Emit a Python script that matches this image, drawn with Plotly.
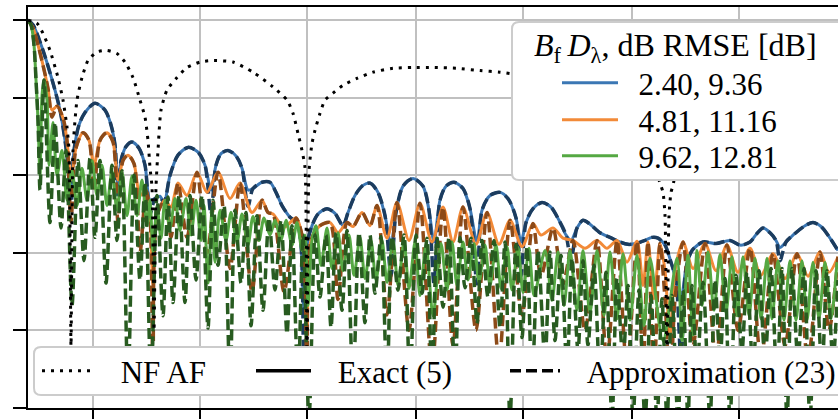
import plotly.graph_objects as go

# ---------------- data (x: angular coordinate, y: normalized AF in dB) ----------------
nf_x = [0.0,0.9,1.5,2.2,3.0,3.5,3.9,4.1,4.3,4.5,4.9,5.4,6.0,6.9,7.9,8.9,9.7,10.5,11.2,11.7,
        12.0,12.2,12.4,12.6,12.8,13.0,13.3,13.9,14.9,15.9,17.2,18.4,20.5,22.5,24.5,25.9,26.5,27.0,27.4,27.7,
        27.9,28.1,28.4,28.7,29.2,29.7,30.5,31.5,32.9,34.5,36.5,38.5,40.5,42.9,45.2,47.2,49.2,53.2,57.2,60.2,
        62.2,63.2,63.5,63.7,63.9,64.1,64.3,64.5,65.2,67.2,72.2,77.2,81.2]
nf_af = [0,-0.4,-1.7,-3.9,-7.4,-10.3,-13.8,-16.8,-42,-16.8,-10.3,-7.4,-5.2,-4.1,-3.9,-4.3,-5.4,-7.4,-10.3,-12.5,
         -15.5,-19.0,-21.5,-40,-21.5,-16.8,-11.6,-9.0,-7.4,-6.1,-5.4,-5.2,-5.4,-6.7,-8.6,-10.3,-12.0,-14.6,-16.8,-19.0,
         -45,-19.4,-15.9,-14.2,-12.0,-10.3,-9.4,-8.4,-7.5,-6.7,-6.2,-6.1,-6.1,-6.2,-6.5,-6.7,-7.1,-8.4,-10.3,-13.5,
         -17.4,-21.0,-22.2,-25.2,-45,-25.2,-22.2,-21.3,-16.8,-11.6,-8.4,-7.7,-7.7]

blue_x = [0.0,0.5,1.5,2.5,3.2,3.7,4.0,4.3,4.6,5.1,5.7,6.7,7.7,8.3,8.7,9.0,9.3,9.8,10.4,11.1,
          11.7,12.2,12.7,13.2,13.6,14.2,15.0,16.0,17.0,17.7,18.3,18.8,19.3,20.0,20.8,21.4,22.0,22.5,23.4,24.2,
          24.8,25.4,26.2,26.9,27.3,27.6,27.9,28.4,29.0,29.9,30.7,31.5,32.0,32.7,33.5,34.2,35.0,35.7,36.3,36.8,
          37.5,38.5,39.5,40.1,40.6,41.2,41.8,42.6,43.5,44.2,44.9,45.4,46.2,47.2,48.0,48.8,49.3,49.8,50.5,51.4,
          52.3,53.1,53.8,54.3,54.9,55.5,56.2,57.2,58.2,59.2,60.0,60.8,61.7,62.4,63.0,63.7,64.3,64.8,65.3,65.8,
          66.4,67.5,68.8,70.2,71.2,72.2,72.9,73.5,74.2,74.8,75.2,75.8,76.7,77.7,78.5,79.3,80.1,81.0]
blue_exact = [0,-0.6,-3.9,-8.1,-11.6,-15.5,-18.7,-21.9,-16.8,-13.5,-11.9,-10.7,-11.6,-13.5,-16.1,-21.3,-18.1,-16.3,-15.7,-16.5,
              -18.7,-23.2,-23.0,-22.7,-23.6,-20.0,-17.4,-16.4,-17.0,-18.7,-21.9,-18.7,-17.2,-16.8,-17.5,-19.1,-21.9,-21.7,-20.9,-20.9,
              -22.2,-23.9,-25.4,-26.1,-29.0,-37.4,-29.0,-26.5,-25.0,-24.3,-24.9,-26.5,-24.8,-22.6,-21.3,-21.0,-22.2,-25.2,-29.0,-24.8,
              -21.4,-20.4,-21.4,-24.5,-28.6,-23.2,-21.4,-20.9,-21.7,-24.3,-28.6,-24.5,-22.6,-22.2,-23.0,-25.5,-28.6,-26.1,-24.3,-23.5,
              -24.1,-25.8,-27.7,-28.4,-26.8,-25.8,-26.3,-27.4,-28.0,-28.6,-28.9,-28.8,-28.4,-28.0,-28.1,-29.0,-31.2,-33.5,-36.1,-32.0,
              -29.7,-28.6,-28.8,-28.4,-29.0,-28.6,-27.5,-26.8,-27.4,-28.4,-29.3,-28.6,-27.5,-26.5,-26.1,-26.6,-27.9,-29.7]
blue_approx = [0,-0.6,-3.9,-8.1,-11.6,-15.5,-18.7,-24.5,-16.8,-13.5,-11.9,-10.7,-11.6,-13.5,-16.1,-24.0,-18.1,-16.3,-15.7,-16.5,
               -18.7,-25.0,-23.0,-22.7,-23.6,-20.0,-17.4,-16.4,-17.0,-18.7,-25.0,-18.7,-17.2,-16.8,-17.5,-19.1,-24.0,-21.7,-20.9,-20.9,
               -22.2,-23.9,-25.4,-26.1,-29.0,-46.0,-29.0,-26.5,-25.0,-24.3,-24.9,-26.5,-24.8,-22.6,-21.3,-21.0,-22.2,-25.2,-33.0,-24.8,
               -21.4,-20.4,-21.4,-24.5,-34.0,-23.2,-21.4,-20.9,-21.7,-24.3,-34.0,-24.5,-22.6,-22.2,-23.0,-25.5,-33.0,-26.1,-24.3,-23.5,
               -24.1,-25.8,-27.7,-31.0,-26.8,-25.8,-26.3,-27.4,-28.0,-28.6,-28.9,-28.8,-28.4,-28.0,-28.1,-29.0,-31.2,-33.5,-44.0,-32.0,
               -29.7,-28.6,-28.8,-28.4,-29.0,-28.6,-27.5,-26.8,-27.4,-28.4,-31.0,-28.6,-27.5,-26.5,-26.1,-26.6,-27.9,-29.7]

orange_x = [0.0,0.5,1.0,1.5,2.0,2.4,2.9,3.5,3.9,4.3,4.8,5.5,6.1,6.6,7.2,7.9,8.5,9.0,9.5,10.0,
            10.6,11.2,11.8,12.2,12.5,12.9,13.7,14.3,15.0,15.9,16.9,17.9,19.0,20.2,21.2,22.4,23.4,24.0,24.5,25.6,
            26.8,27.5,27.9,28.3,29.2,30.2,31.0,31.9,32.5,33.4,34.2,34.9,35.9,36.9,38.1,39.2,40.4,41.5,42.5,43.5,
            44.8,45.9,47.1,48.2,49.4,50.5,51.3,52.5,53.5,54.5,55.7,56.9,57.9,58.9,59.9,60.9,61.5,62.0,62.6,63.2,
            63.7,64.2,64.7,65.5,66.5,67.7,68.8,69.9,71.0,72.2,73.3,74.5,75.7,76.9,78.0,79.2,80.1,81.0]
orange_exact = [0,-1.0,-3.2,-5.8,-8.8,-11.6,-11.1,-12.6,-15.5,-20.6,-16.5,-14.5,-15.5,-18.7,-15.5,-14.5,-15.7,-20.6,-18.1,-17.4,
                -18.5,-22.6,-21.9,-25.2,-34.2,-25.2,-23.2,-24.1,-21.0,-22.6,-19.6,-22.2,-19.6,-23.0,-21.0,-24.8,-23.2,-24.8,-25.0,-26.7,
                -25.5,-28.4,-40.6,-28.4,-26.5,-26.1,-27.4,-26.1,-26.6,-24.8,-26.5,-23.9,-28.1,-23.5,-28.4,-23.6,-28.6,-24.1,-28.6,-24.1,
                -28.9,-24.8,-28.9,-25.8,-29.2,-26.2,-27.7,-26.8,-28.1,-28.4,-29.4,-28.4,-29.4,-28.4,-31.2,-28.5,-34.2,-28.6,-35.9,-28.8,
                -32.3,-40.9,-32.3,-28.6,-32.0,-28.8,-32.3,-29.0,-32.5,-29.4,-32.9,-30.1,-33.3,-30.1,-33.0,-29.9,-32.5,-30.5]
orange_approx = [0,-1.0,-3.2,-5.8,-8.8,-12.5,-11.1,-12.6,-15.5,-26.0,-16.5,-14.5,-15.5,-22.0,-15.5,-14.5,-15.7,-26.0,-18.1,-17.4,
                 -18.5,-30.0,-21.9,-25.2,-45.0,-25.2,-23.2,-28.0,-21.0,-28.0,-19.6,-30.0,-19.6,-32.0,-21.0,-35.0,-23.2,-24.8,-25.0,-35.0,
                 -25.5,-28.4,-47.0,-28.4,-26.5,-26.1,-36.0,-26.1,-26.6,-24.8,-26.5,-23.9,-38.0,-23.5,-40.0,-23.6,-45.0,-24.1,-42.0,-24.1,
                 -40.0,-24.8,-44.0,-25.8,-38.0,-26.2,-33.0,-26.8,-34.0,-28.4,-40.0,-28.4,-44.0,-28.4,-45.0,-28.5,-45.0,-28.6,-46.0,-28.8,
                 -36.0,-48.0,-36.0,-28.6,-42.0,-28.8,-44.0,-29.0,-40.0,-29.4,-44.0,-30.1,-42.0,-30.1,-44.0,-29.9,-40.0,-30.5]

green_x = [0.0,0.3,0.6,0.8,1.0,1.2,1.4,1.6,1.9,2.1,2.5,2.9,3.4,3.9,4.4,4.9,5.4,5.9,6.4,6.9,
           7.4,7.9,8.4,8.9,9.4,9.9,10.4,10.9,11.4,11.9,12.2,12.5,12.9,13.3,13.7,14.2,14.7,15.2,15.8,16.3,
           16.8,17.3,17.6,18.0,18.4,18.7,19.2,19.8,20.3,20.9,21.4,22.0,22.5,23.1,23.6,24.2,24.7,25.3,25.8,26.4,
           26.9,27.4,27.7,28.0,28.4,28.8,29.3,29.9,30.4,31.0,31.5,32.1,32.6,33.2,33.7,34.3,34.8,35.4,35.9,36.5,
           37.0,37.6,38.1,38.7,39.2,39.8,40.5,41.3,41.9,42.4,42.9,43.5,44.0,44.6,45.1,45.7,46.2,46.8,47.3,47.9,
           48.4,49.0,49.5,50.1,50.6,51.7,52.4,53.0,53.6,54.2,54.9,55.5,56.2,56.9,57.6,58.2,58.9,59.5,60.2,60.9,
           61.6,62.2,63.5,64.9,65.4,66.0,66.5,66.9,67.4,68.0,68.6,69.2,69.8,70.4,70.9,71.5,72.1,72.7,73.3,73.9,
           74.4,75.0,75.6,76.2,76.8,77.4,77.9,78.5,79.1,79.7,80.3,80.9]
green_exact = [0,-0.6,-3.2,-7.7,-12.9,-20.0,-9.7,-7.7,-10.3,-18.7,-13.2,-20.0,-16.8,-23.2,-19.4,-23.9,-19.1,-23.2,-18.1,-22.6,
               -18.7,-23.9,-19.4,-24.5,-19.6,-25.2,-20.1,-25.2,-20.6,-26.5,-23.2,-29.9,-23.9,-28.1,-23.2,-26.8,-23.0,-27.1,-23.0,-27.7,
               -23.2,-28.4,-23.9,-33.9,-24.5,-31.2,-24.5,-28.4,-24.8,-28.6,-25.0,-29.0,-25.3,-28.4,-25.5,-27.7,-25.8,-28.4,-25.8,-29.0,
               -26.1,-29.7,-27.7,-36.8,-28.4,-26.5,-31.6,-26.8,-32.0,-27.4,-32.3,-27.7,-32.9,-28.0,-33.3,-28.4,-33.5,-28.4,-33.8,-28.4,
               -34.2,-28.6,-34.6,-28.6,-35.5,-28.9,-38.1,-28.8,-34.8,-28.6,-34.2,-28.6,-33.5,-28.8,-33.8,-29.0,-34.2,-29.0,-34.6,-29.2,
               -34.8,-29.3,-35.1,-29.4,-35.5,-29.7,-36.1,-29.9,-36.8,-29.7,-37.4,-29.7,-37.7,-29.7,-38.1,-29.9,-38.5,-30.1,-38.7,-30.3,
               -39.4,-30.7,-41.3,-30.7,-41.3,-30.3,-40.6,-29.7,-36.8,-29.9,-37.4,-30.2,-37.7,-30.5,-38.1,-30.5,-38.1,-30.7,-38.5,-30.7,
               -38.5,-31.0,-38.7,-31.0,-38.7,-31.0,-38.7,-31.2,-38.5,-31.2,-38.5,-31.2]

green_ax = [0.0,0.3,0.6,0.8,1.0,1.2,1.6,2.2,2.7,3.3,3.8,4.4,5.0,5.6,6.2,6.7,7.2,7.8,8.4,8.9,
            9.4,10.0,10.6,11.2,11.7,12.3,12.9,13.5,14.0,14.5,15.1,15.7,16.2,16.8,17.4,18.0,18.5,19.0,19.6,20.2,
            20.7,21.3,21.8,22.3,22.9,23.5,24.1,24.7,25.3,25.9,26.4,27.0,27.5,28.1,28.7,29.2,29.8,30.3,30.8,31.4,
            31.9,32.5,33.1,33.7,34.2,34.7,35.3,35.9,36.4,37.0,37.6,38.2,38.8,39.4,39.9,40.4,40.9,41.5,42.1,42.7,
            43.2,43.7,44.3,44.9,45.4,46.0,46.6,47.2,47.7,48.2,48.8,49.4,49.9,50.4,51.0,51.7,52.2,52.7,53.3,53.9,
            54.4,55.0,55.5,56.0,56.6,57.2,57.8,58.4,58.9,59.5,60.0,60.5,61.1,61.7,62.3,62.9,63.4,63.9,64.4,65.0,
            65.5,66.0,66.4,66.9,67.5,68.2,68.7,69.2,69.7,70.2,70.8,71.4,71.9,72.5,73.1,73.7,74.3,74.9,75.4,75.9,
            76.4,77.0,77.6,78.2,78.8,79.4,79.9,80.5,81.0]
green_approx = [0,-0.6,-3.2,-7.7,-12.9,-21.9,-7.7,-26.1,-13.2,-26.8,-16.8,-36.8,-18.1,-31.0,-17.8,-28.0,-18.1,-33.9,-18.7,-28.4,
                -19.4,-47.1,-20.0,-33.5,-20.9,-47.1,-22.6,-38.1,-22.8,-36.4,-22.6,-36.4,-22.6,-33.5,-22.6,-39.7,-23.2,-31.6,-23.9,-47.1,
                -24.5,-33.9,-24.8,-39.4,-25.2,-37.4,-25.5,-34.8,-25.8,-40.4,-26.5,-47.1,-27.7,-51.6,-27.7,-35.7,-27.7,-39.6,-27.4,-37.4,
                -27.1,-47.1,-27.4,-39.0,-27.7,-35.2,-27.9,-47.1,-27.9,-34.8,-27.7,-47.1,-27.7,-35.2,-28.1,-47.1,-28.1,-37.0,-28.0,-47.1,
                -28.0,-34.5,-28.1,-39.1,-28.4,-35.7,-28.4,-39.6,-28.6,-51.6,-28.9,-40.9,-29.2,-47.1,-29.7,-43.9,-29.9,-41.3,-30.3,-45.2,
                -30.7,-42.6,-31.0,-41.9,-31.6,-46.5,-32.5,-51.6,-33.3,-43.9,-34.2,-51.6,-34.8,-51.6,-35.5,-51.6,-35.9,-51.6,-35.5,-51.6,
                -34.8,-51.6,-34.2,-45.2,-33.8,-51.6,-33.5,-43.9,-33.3,-51.6,-32.9,-42.6,-32.5,-45.2,-32.3,-43.9,-32.0,-46.5,-32.0,-51.6,
                -32.0,-43.9,-32.0,-51.6,-32.3,-45.2,-32.3,-43.9,-33.5]

series_labels = ["2.40, 9.36", "4.81, 11.16", "9.62, 12.81"]
x_ticks = [6.5, 17.2, 27.9, 38.8, 49.5, 60.4, 71.1]
y_ticks = [0, -10, -20, -30, -40, -50]

# ---------------- styling ----------------
W, H = 838, 419
ML, MR, MT, MB = 28, 0, 7, 11
PW, PH = W - ML - MR, H - MT - MB
SERIF = "Liberation Serif"
FS = 31
GAP_TOP = "\u00a0\u00a0"
GAP_BOT = "\u00a0\u00a0\u2009"

exact_colors = ["#3b77b4", "#f28a38", "#55a843"]
approx_colors = ["#1c3c5e", "#8c4a18", "#285b20"]
top_legends = ["legend", "legend5", "legend6"]

fig = go.Figure()


def add_line(x, y, color, width, dash="solid", name=None, legend="legend", showlegend=False, smooth=0.8):
    fig.add_trace(go.Scatter(
        x=x, y=y, mode="lines", name=name, legend=legend, showlegend=showlegend,
        line=dict(color=color, width=width, dash=dash, shape="spline", smoothing=smooth),
        hoverinfo="skip"))


sets = [(blue_x, blue_exact, blue_x, blue_approx),
        (orange_x, orange_exact, orange_x, orange_approx),
        (green_x, green_exact, green_ax, green_approx)]
for i, (xe, ye, xa, ya) in enumerate(sets):
    add_line(xe, ye, exact_colors[i], 3, name=GAP_TOP + series_labels[i], legend=top_legends[i], showlegend=True)
    add_line(xa, ya, approx_colors[i], 3.5, dash="11px,5px")

add_line(nf_x, nf_af, "black", 3, dash="3px,6px", name=GAP_BOT + "NF AF", legend="legend2", showlegend=True, smooth=0.6)
fig.add_trace(go.Scatter(x=[None], y=[None], mode="lines", name=GAP_BOT + "Exact (5)", legend="legend3",
                         line=dict(color="black", width=3.5)))
fig.add_trace(go.Scatter(x=[None], y=[None], mode="lines", name=GAP_BOT + "Approximation (23)", legend="legend4",
                         line=dict(color="black", width=3.5, dash="11px,5px")))


def px2paper(px, py):
    return (px - ML) / PW, (H - MB - py) / PH


def rounded_box(x0p, y0p, x1p, y1p, r=7):
    x0, y1 = px2paper(x0p, y0p)
    x1, y0 = px2paper(x1p, y1p)
    rx, ry = r / PW, r / PH
    path = (f"M {x0+rx},{y0} L {x1-rx},{y0} Q {x1},{y0} {x1},{y0+ry} L {x1},{y1-ry} "
            f"Q {x1},{y1} {x1-rx},{y1} L {x0+rx},{y1} Q {x0},{y1} {x0},{y1-ry} "
            f"L {x0},{y0+ry} Q {x0},{y0} {x0+rx},{y0} Z")
    return dict(type="path", path=path, xref="paper", yref="paper", layer="above",
                fillcolor="white", line=dict(color="#cccccc", width=2))


shapes = [rounded_box(512, 22, 860, 180), rounded_box(34, 347, 860, 395)]

tx, ty = px2paper(675, 47)
annotations = [dict(text="<i>B</i><sub>f</sub>\u2009<i>D</i><sub>λ</sub>, dB RMSE [dB]",
                    x=tx, y=ty, xref="paper", yref="paper", xanchor="center", yanchor="middle",
                    showarrow=False, font=dict(family=SERIF, size=32, color="black"))]


def leg(px, py, itemwidth):
    x, y = px2paper(px, py)
    return dict(x=x, y=y, xanchor="left", yanchor="middle", itemwidth=itemwidth,
                bgcolor="rgba(0,0,0,0)", borderwidth=0,
                font=dict(family=SERIF, size=FS, color="black"),
                itemclick=False, itemdoubleclick=False)


fig.update_layout(
    width=W, height=H, margin=dict(l=ML, r=MR, t=MT, b=MB, autoexpand=False),
    paper_bgcolor="white", plot_bgcolor="white",
    showlegend=True,
    legend=leg(557, 83, 56), legend5=leg(557, 120, 56), legend6=leg(557, 156, 56),
    legend2=leg(37, 371, 52), legend3=leg(251, 371, 55), legend4=leg(505, 371, 50),
    shapes=shapes, annotations=annotations,
    xaxis=dict(range=[0, 81], tickvals=x_ticks, showticklabels=False, ticks="outside", ticklen=12,
               tickwidth=2, tickcolor="black", showline=True, linecolor="black", linewidth=2, mirror=True,
               showgrid=True, gridcolor="#c0c0c0", gridwidth=2, zeroline=False),
    yaxis=dict(range=[-50, 1.7], tickvals=y_ticks, showticklabels=False, ticks="outside", ticklen=13,
               tickwidth=2, tickcolor="black", showline=True, linecolor="black", linewidth=2, mirror=False,
               showgrid=True, gridcolor="#c0c0c0", gridwidth=2, zeroline=False),
)

fig.write_html("out.html", config={"displayModeBar": False, "staticPlot": True},
               post_script="document.body.style.margin='0px'; document.body.style.overflow='hidden';")
